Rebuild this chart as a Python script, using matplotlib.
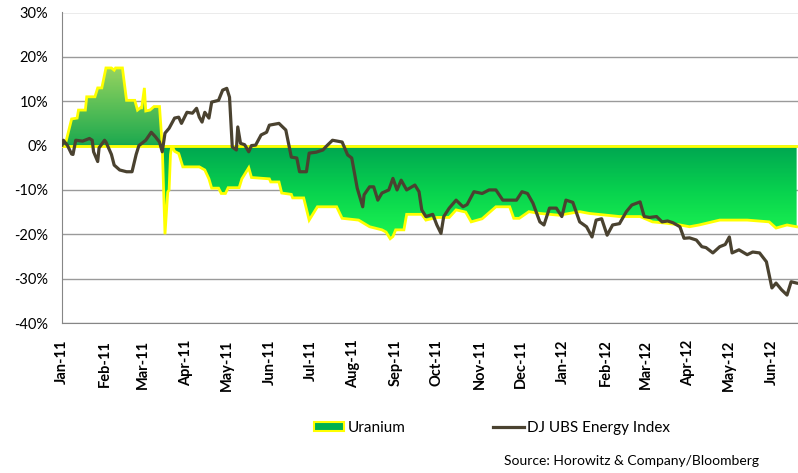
import numpy as np
import pandas as pd
import matplotlib
matplotlib.use("Agg")
import matplotlib.pyplot as plt
import matplotlib.dates as mdates
from matplotlib.colors import LinearSegmentedColormap
from matplotlib.patches import Patch
from matplotlib.lines import Line2D

plt.rcParams["font.family"] = ["Lato", "DejaVu Sans"]

# Uranium spot price, % change since Jan-11
uranium_dates = [
    "2011-01-01", "2011-01-04", "2011-01-08", "2011-01-12", "2011-01-13", "2011-01-18",
    "2011-01-19", "2011-01-25", "2011-01-27", "2011-01-30", "2011-02-02", "2011-02-06",
    "2011-02-08", "2011-02-09", "2011-02-14", "2011-02-17", "2011-02-23", "2011-02-25",
    "2011-02-27", "2011-02-28", "2011-03-02", "2011-03-03", "2011-03-06", "2011-03-09",
    "2011-03-13", "2011-03-15", "2011-03-17", "2011-03-19", "2011-03-20", "2011-03-21",
    "2011-03-22", "2011-03-24", "2011-03-27", "2011-03-30", "2011-04-11", "2011-04-15",
    "2011-04-18", "2011-04-20", "2011-04-25", "2011-04-27", "2011-04-30", "2011-05-02",
    "2011-05-10", "2011-05-12", "2011-05-17", "2011-05-19", "2011-06-01", "2011-06-02",
    "2011-06-08", "2011-06-10", "2011-06-17", "2011-06-18", "2011-06-26", "2011-06-30",
    "2011-07-06", "2011-07-20", "2011-07-24", "2011-08-05", "2011-08-13", "2011-08-22",
    "2011-08-25", "2011-08-28", "2011-08-30", "2011-09-01", "2011-09-07", "2011-09-09",
    "2011-09-20", "2011-09-23", "2011-10-01", "2011-10-10", "2011-10-15", "2011-10-22",
    "2011-10-26", "2011-11-03", "2011-11-13", "2011-11-23", "2011-11-26", "2011-11-30",
    "2011-12-07", "2011-12-15", "2011-12-29", "2012-01-13", "2012-01-20", "2012-02-11",
    "2012-02-26", "2012-03-06", "2012-03-16", "2012-03-26", "2012-04-02", "2012-04-09",
    "2012-04-24", "2012-05-14", "2012-05-30", "2012-06-04", "2012-06-12", "2012-06-19",
]
uranium_values = [
    0.5, 1.0, 6.0, 6.2, 8.0, 8.0,
    11.0, 11.0, 13.0, 13.0, 17.5, 17.5,
    17.0, 17.5, 17.5, 10.2, 10.2, 8.0,
    8.5, 8.5, 13.0, 7.8, 8.0, 8.8,
    8.8, 0.0, -20.0, -10.5, -10.0, -2.0,
    0.0, -1.3, -1.8, -4.8, -4.8, -5.5,
    -7.5, -9.6, -9.6, -10.8, -10.8, -9.5,
    -9.5, -7.5, -5.0, -7.2, -7.5, -8.2,
    -8.2, -10.7, -11.0, -11.8, -11.8, -16.8,
    -13.8, -13.8, -16.4, -16.8, -18.3, -19.0,
    -19.5, -21.0, -20.5, -19.0, -19.0, -15.5,
    -15.5, -16.8, -16.2, -16.2, -14.5, -15.0,
    -17.2, -16.5, -13.8, -13.8, -16.4, -16.4,
    -14.9, -15.3, -15.7, -14.9, -15.3, -16.0,
    -16.0, -17.2, -17.5, -17.9, -18.3, -17.9,
    -16.8, -16.8, -17.2, -18.6, -17.9, -18.3,
]

# DJ UBS Energy Index, % change since Jan-11
energy_dates = [
    "2011-01-01", "2011-01-02", "2011-01-05", "2011-01-08", "2011-01-09", "2011-01-11",
    "2011-01-16", "2011-01-21", "2011-01-23", "2011-01-24", "2011-01-27", "2011-01-28",
    "2011-02-01", "2011-02-02", "2011-02-06", "2011-02-08", "2011-02-12", "2011-02-17",
    "2011-02-21", "2011-02-24", "2011-02-26", "2011-03-03", "2011-03-07", "2011-03-10",
    "2011-03-13", "2011-03-15", "2011-03-17", "2011-03-20", "2011-03-24", "2011-03-27",
    "2011-03-29", "2011-04-02", "2011-04-06", "2011-04-09", "2011-04-11", "2011-04-13",
    "2011-04-15", "2011-04-18", "2011-04-20", "2011-04-25", "2011-04-28", "2011-05-01",
    "2011-05-03", "2011-05-05", "2011-05-08", "2011-05-09", "2011-05-11", "2011-05-14",
    "2011-05-17", "2011-05-19", "2011-05-22", "2011-05-26", "2011-05-30", "2011-06-01",
    "2011-06-08", "2011-06-13", "2011-06-17", "2011-06-21", "2011-06-23", "2011-06-28",
    "2011-06-30", "2011-07-05", "2011-07-10", "2011-07-13", "2011-07-17", "2011-07-24",
    "2011-07-28", "2011-07-31", "2011-08-04", "2011-08-08", "2011-08-09", "2011-08-13",
    "2011-08-16", "2011-08-19", "2011-08-22", "2011-08-27", "2011-08-30", "2011-09-02",
    "2011-09-05", "2011-09-09", "2011-09-15", "2011-09-18", "2011-09-20", "2011-09-23",
    "2011-09-28", "2011-10-01", "2011-10-04", "2011-10-06", "2011-10-10", "2011-10-15",
    "2011-10-20", "2011-10-23", "2011-10-28", "2011-11-03", "2011-11-08", "2011-11-13",
    "2011-11-18", "2011-11-28", "2011-12-02", "2011-12-06", "2011-12-10", "2011-12-15",
    "2011-12-18", "2011-12-22", "2011-12-27", "2011-12-31", "2012-01-03", "2012-01-08",
    "2012-01-13", "2012-01-18", "2012-01-22", "2012-01-25", "2012-01-29", "2012-02-02",
    "2012-02-06", "2012-02-11", "2012-02-16", "2012-02-20", "2012-02-26", "2012-02-29",
    "2012-03-04", "2012-03-09", "2012-03-13", "2012-03-17", "2012-03-21", "2012-03-26",
    "2012-03-29", "2012-04-02", "2012-04-07", "2012-04-11", "2012-04-14", "2012-04-19",
    "2012-04-24", "2012-04-28", "2012-05-01", "2012-05-03", "2012-05-08", "2012-05-14",
    "2012-05-18", "2012-05-23", "2012-05-28", "2012-06-01", "2012-06-04", "2012-06-08",
    "2012-06-12", "2012-06-15", "2012-06-19",
]
energy_values = [
    0.1, 1.2, 0.0, -1.9, -2.0, 1.2,
    1.0, 1.6, 1.2, -1.4, -3.6, -0.5,
    1.2, 0.8, -2.0, -4.4, -5.5, -5.9,
    -5.9, -2.0, 0.0, 1.2, 3.0, 2.0,
    0.8, -1.4, 2.8, 3.9, 6.2, 6.4,
    5.0, 7.5, 7.3, 8.4, 6.4, 5.3,
    7.5, 6.2, 9.8, 10.2, 12.5, 12.9,
    10.9, -0.3, -1.0, 4.2, 0.5, 0.2,
    -1.4, 0.0, 0.1, 2.4, 3.0, 4.6,
    5.0, 3.5, -2.6, -2.8, -5.9, -5.9,
    -1.7, -1.5, -1.0, 0.0, 1.2, 0.8,
    -2.1, -2.8, -9.6, -13.8, -11.1, -9.3,
    -9.3, -12.3, -10.7, -10.0, -7.4, -10.0,
    -7.8, -10.0, -8.9, -10.4, -14.5, -16.0,
    -15.5, -17.9, -19.8, -16.0, -14.1, -12.3,
    -13.8, -13.3, -10.4, -10.8, -10.0, -10.0,
    -12.3, -12.3, -10.4, -10.8, -13.0, -17.2,
    -17.9, -14.1, -14.1, -16.0, -12.3, -12.8,
    -17.2, -18.3, -20.6, -16.8, -16.5, -20.2,
    -17.9, -17.6, -14.9, -13.4, -12.7, -16.0,
    -16.2, -16.0, -17.2, -17.0, -17.4, -18.3,
    -20.9, -20.8, -21.3, -22.8, -23.0, -24.2,
    -22.8, -22.3, -20.6, -24.2, -23.5, -24.6,
    -24.0, -24.2, -26.2, -32.1, -31.0, -32.5,
    -33.7, -30.7, -31.0,
]

y_ticks = [-40, -30, -20, -10, 0, 10, 20, 30]
source_text = "Source: Horowitz & Company/Bloomberg"

u_dates = pd.to_datetime(uranium_dates)
u_vals = np.array(uranium_values)
e_dates = pd.to_datetime(energy_dates)
e_vals = np.array(energy_values)

fig = plt.figure(figsize=(7.98, 4.73), dpi=100)
ax = fig.add_axes([62 / 798, 1 - 323 / 473, 1 - 62 / 798, (323 - 12.5) / 473])

x_start = pd.Timestamp("2011-01-01")
x_end = pd.Timestamp("2012-06-20")

# gridlines
ax.set_yticks(y_ticks)
ax.set_yticklabels([f"{t}%" for t in y_ticks])
ax.grid(axis="y", color="#9a9a9a", linewidth=1.0)
ax.set_axisbelow(True)

# gradient-filled uranium area
poly = ax.fill_between(u_dates, u_vals, 0, facecolor="none", edgecolor="none")
cmap = LinearSegmentedColormap.from_list(
    "uranium",
    [(0.0, "#1cf650"), (0.28, "#08d24e"), (0.545, "#00a651"),
     (0.56, "#1faa4f"), (1.0, "#95d35f")],
)
vmin, vmax = -21.0, 17.5
grad = np.linspace(vmax, vmin, 300).reshape(-1, 1)
img = ax.imshow(
    grad, cmap=cmap, vmin=vmin, vmax=vmax, aspect="auto",
    extent=[mdates.date2num(x_start), mdates.date2num(x_end), vmin, vmax],
    interpolation="bilinear", zorder=2,
)
img.set_clip_path(poly.get_paths()[0], transform=ax.transData)
ax.set_xlim(x_start, x_end)
ax.set_ylim(-40, 30)

ax.axhline(0, color="#ffff00", linewidth=2.0, zorder=3)
ax.plot(u_dates, u_vals, color="#ffff00", linewidth=2.0, zorder=3,
        solid_joinstyle="miter")

ax.plot(e_dates, e_vals, color="#4a4230", linewidth=2.3, zorder=4)

# axes styling
for side in ["top", "right"]:
    ax.spines[side].set_visible(False)
ax.spines["left"].set_color("#868686")
ax.spines["bottom"].set_color("#868686")
ax.tick_params(axis="both", length=0)
ax.tick_params(axis="y", pad=10, labelsize=10.5, colors="#000000")

ax.xaxis.set_major_locator(mdates.MonthLocator())
ax.xaxis.set_major_formatter(mdates.DateFormatter("%b-%y"))
for lbl in ax.get_xticklabels():
    lbl.set_rotation(90)
    lbl.set_fontweight("bold")
    lbl.set_fontsize(10.5)
ax.tick_params(axis="x", pad=12)

handles = [
    Patch(facecolor="#00b050", edgecolor="#ffff00", linewidth=1.5),
    Line2D([], [], color="#4a4230", linewidth=2.3),
]
fig.legend(
    handles, ["Uranium", "DJ UBS Energy Index"],
    loc="center left", bbox_to_anchor=(300 / 798, 1 - 428 / 473),
    ncol=2, frameon=False, fontsize=11, handlelength=2.0,
    handleheight=0.55, handletextpad=0.25, columnspacing=5.7,
)

fig.text(504 / 798, 1 - 461 / 473, source_text, fontsize=10, va="center", ha="left")

fig.savefig("out.png", dpi=100)
